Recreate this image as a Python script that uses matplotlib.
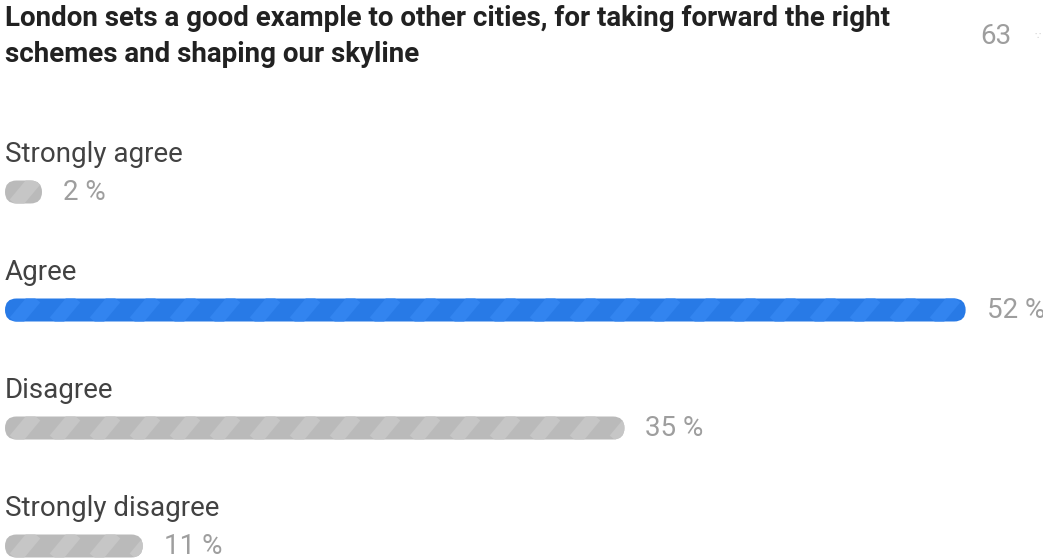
import matplotlib
matplotlib.use("Agg")
from matplotlib import pyplot as plt
from matplotlib.patches import FancyBboxPatch

title_lines = ["London sets a good example to other cities, for taking forward the right",
               "schemes and shaping our skyline"]
total_votes = 63
answers = ["Strongly agree", "Agree", "Disagree", "Strongly disagree"]
percents = [2, 52, 35, 11]
bar_colors = ["#bababa", "#287ae6", "#bababa", "#bababa"]
stripe_colors = ["#c6c6c6", "#3284ef", "#c6c6c6", "#c6c6c6"]

plt.rcParams['font.family'] = ['Roboto', 'DejaVu Sans']

fig = plt.figure(figsize=(10.43, 5.6), dpi=100)
ax = fig.add_axes([0, 0, 1, 1])
ax.set_xlim(0, 1043)
ax.set_ylim(560, 0)
ax.axis('off')

# title + vote count
ax.text(5, 18, title_lines[0], fontsize=20, fontweight='bold', color='#212121', va='center')
ax.text(5, 55, title_lines[1], fontsize=20, fontweight='bold', color='#212121', va='center')
ax.text(980, 36, str(total_votes), fontsize=20, color='#9e9e9e', va='center')
ax.text(1034, 36, "\u2235", fontsize=7, color='#cfcfcf', va='center')

x0 = 5
px_per_pct = 20.07
bar_h = 23
for i, (name, p) in enumerate(zip(answers, percents)):
    label_y = 155 + i * 118
    bar_y = label_y + 37
    ax.text(x0, label_y, name, fontsize=20, color='#424242', va='center')
    w = max(px_per_pct * p - 83, 37)
    patch = FancyBboxPatch((x0, bar_y - bar_h / 2), w, bar_h,
                           boxstyle="round,pad=0,rounding_size=11.5",
                           fc=bar_colors[i], ec='none')
    ax.add_patch(patch)
    # diagonal stripes clipped to the bar
    sx = x0 - 30
    while sx < x0 + w + 30:
        ln, = ax.plot([sx, sx + 20], [bar_y + 12, bar_y - 12], color=stripe_colors[i],
                      lw=10, solid_capstyle='butt')
        ln.set_clip_path(patch)
        sx += 40
    ax.text(x0 + w + 21, bar_y + 1, f"{p} %", fontsize=20, color='#9e9e9e', va='center')

fig.savefig("out.png", dpi=100, facecolor='white')
